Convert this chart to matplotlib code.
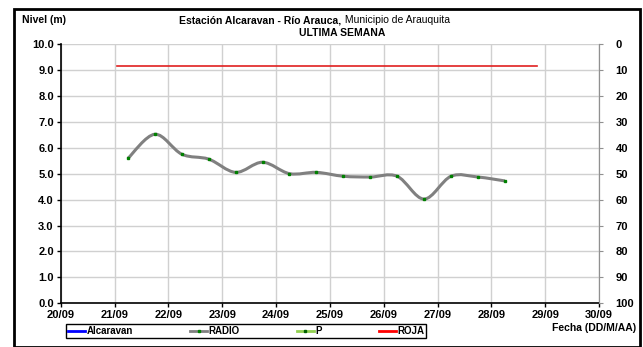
import matplotlib.pyplot as plt
import numpy as np
from matplotlib.path import Path
from matplotlib.patches import PathPatch, Rectangle
from matplotlib.lines import Line2D

plt.rcParams['font.family'] = ['Liberation Sans', 'DejaVu Sans']

# dias (dia de septiembre, fraccion = hora)
radio_dias = [21.25, 21.75, 22.25, 22.75, 23.25, 23.75, 24.25, 24.75,
              25.25, 25.75, 26.25, 26.75, 27.25, 27.75, 28.25]
radio_nivel = [5.59, 6.52, 5.75, 5.56, 5.05, 5.44, 5.00, 5.05,
               4.90, 4.87, 4.90, 4.02, 4.90, 4.87, 4.72]
roja_dias = [21.05, 28.85]
roja_nivel = [9.15, 9.15]
x_ticks = [20, 21, 22, 23, 24, 25, 26, 27, 28, 29, 30]
x_labels = ['20/09', '21/09', '22/09', '23/09', '24/09', '25/09',
            '26/09', '27/09', '28/09', '29/09', '30/09']


def smooth_path(xs, ys):
    # curva suavizada tipo Excel (Catmull-Rom como Bezier cubica)
    p = np.column_stack([xs, ys])
    ext = np.vstack([p[0], p, p[-1]])
    verts = [p[0]]
    codes = [Path.MOVETO]
    for i in range(1, len(ext) - 2):
        c1 = ext[i] + (ext[i + 1] - ext[i - 1]) / 6
        c2 = ext[i + 1] - (ext[i + 2] - ext[i]) / 6
        verts += [c1, c2, ext[i + 1]]
        codes += [Path.CURVE4] * 3
    return Path(verts, codes)


fig = plt.figure(figsize=(6.43, 3.47), dpi=100)
ax = fig.add_axes([0.0944, 0.1259, 0.8372, 0.7473])

ax.set_xlim(20, 30)
ax.set_ylim(0, 10)
ax.set_xticks(x_ticks)
ax.set_xticklabels(x_labels, fontweight='bold', fontsize=8)
ax.set_yticks(np.arange(0, 11, 1))
ax.set_yticklabels(['%.1f' % v for v in np.arange(0, 11, 1)], fontweight='bold', fontsize=8)
ax.grid(True, color='#d0d0d0', lw=1)
ax.set_axisbelow(True)
ax.tick_params(direction='out', length=3, width=1, pad=2)
ax.spines['top'].set_visible(False)
ax.spines['right'].set_color('#909090')
ax.spines['left'].set_linewidth(1.2)
ax.spines['bottom'].set_linewidth(1.2)

ax.plot(roja_dias, roja_nivel, color='#e02020', lw=1.2)
ax.add_patch(PathPatch(smooth_path(radio_dias, radio_nivel), fill=False,
                       edgecolor='#808080', lw=2.2, transform=ax.transData))
ax.plot(radio_dias, radio_nivel, ls='none', marker='s', ms=2, color='#008000')

ax2 = ax.twinx()
ax2.set_ylim(100, 0)
ax2.set_yticks(np.arange(0, 101, 10))
ax2.set_yticklabels([str(v) for v in range(0, 101, 10)], fontweight='bold', fontsize=8)
ax2.tick_params(direction='out', length=3, color='#909090', pad=9)
for s in ['top', 'left', 'bottom']:
    ax2.spines[s].set_visible(False)
ax2.spines['right'].set_color('#909090')

fig.text(0.034, 0.942, 'Nivel (m)', fontweight='bold', fontsize=7.5, va='center')
fig.text(0.53, 0.942, 'Estación Alcaravan - Río Arauca,', fontweight='bold',
         fontsize=7.5, ha='right', va='center')
fig.text(0.532, 0.942, ' Municipio de Arauquita', fontsize=7.5, ha='left', va='center')
fig.text(0.532, 0.905, 'ULTIMA SEMANA', fontweight='bold', fontsize=7.5,
         ha='center', va='center')
fig.text(0.99, 0.055, 'Fecha (DD/M/AA)', fontweight='bold', fontsize=7.5,
         ha='right', va='center')

handles = [
    Line2D([], [], color='#0000ff', lw=2),
    Line2D([], [], color='#808080', lw=2, marker='s', ms=2,
           markerfacecolor='#008000', markeredgecolor='#008000'),
    Line2D([], [], color='#92d050', lw=2, marker='s', ms=2,
           markerfacecolor='#006000', markeredgecolor='#006000'),
    Line2D([], [], color='#ff0000', lw=2),
]
leg = fig.legend(handles, ['Alcaravan', 'RADIO', 'P', 'ROJA'], ncol=4,
                 loc='center', bbox_to_anchor=(0.1026, 0.0222, 0.56, 0.048),
                 mode='expand', fancybox=False, edgecolor='black', framealpha=1,
                 prop={'weight': 'bold', 'size': 7}, handlelength=1.8,
                 handletextpad=0.1, borderpad=0.2, borderaxespad=0)
leg.get_frame().set_linewidth(1)

# marco exterior
fig.patches.append(Rectangle((0.021, 0.0), 0.975, 0.975, transform=fig.transFigure,
                             fill=False, edgecolor='black', lw=2))

fig.savefig('out.png', dpi=100)
